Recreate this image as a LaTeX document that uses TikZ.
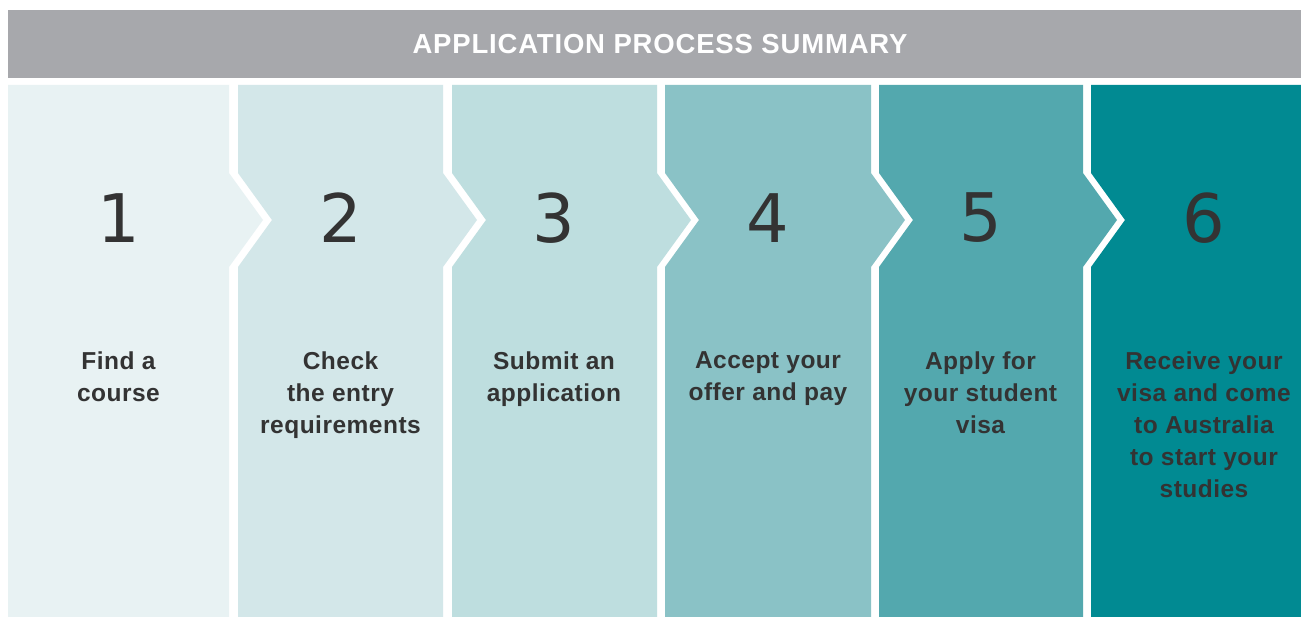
\documentclass[tikz,border=0pt]{standalone}
\usepackage{fontspec}
\setmainfont{Liberation Sans}
\newfontfamily\lblfont[LetterSpace=2]{Liberation Sans}
\newfontfamily\ttlfont[LetterSpace=3]{Liberation Sans}
\newfontfamily\numfont{DejaVu Sans}
\definecolor{bargray}{HTML}{A7A8AC}
\definecolor{pa}{HTML}{E8F2F3}
\definecolor{pb}{HTML}{D3E7E9}
\definecolor{pc}{HTML}{BEDEDF}
\definecolor{pd}{HTML}{8AC2C6}
\definecolor{pe}{HTML}{53A8AE}
\definecolor{pf}{HTML}{018A92}
\definecolor{textdark}{HTML}{333333}
\begin{document}
\begin{tikzpicture}[x=1pt,y=-1pt,
  titletext/.style={inner sep=0, text=white, font=\ttlfont\bfseries\fontsize{27.5}{32}\selectfont},
  num/.style={inner sep=0, text=textdark, font=\numfont\fontsize{67}{70}\selectfont},
  lbl/.style={anchor=north, inner sep=0, align=center, text=textdark, font=\lblfont\bfseries\fontsize{24.5}{32}\selectfont}]
\useasboundingbox (0,0) rectangle (1301,617);
\fill[white] (0,0) rectangle (1301,617);
\fill[bargray] (8,10) rectangle (1301,78.5);
\node[titletext] (title) at (660,44) {APPLICATION PROCESS SUMMARY};
% panels
\fill[pa] (8,85) -- (229,85) -- (229,173) -- (263,220) -- (229,267) -- (229,617) -- (8,617) -- cycle;
\fill[pb] (238,85) -- (443,85) -- (443,173) -- (477,220) -- (443,267) -- (443,617) -- (238,617) -- (238,267) -- (272,220) -- (238,173) -- cycle;
\fill[pc] (452,85) -- (657,85) -- (657,173) -- (691,220) -- (657,267) -- (657,617) -- (452,617) -- (452,267) -- (486,220) -- (452,173) -- cycle;
\fill[pd] (665,85) -- (871,85) -- (871,173) -- (905,220) -- (871,267) -- (871,617) -- (665,617) -- (665,267) -- (699,220) -- (665,173) -- cycle;
\fill[pe] (879,85) -- (1083,85) -- (1083,173) -- (1117,220) -- (1083,267) -- (1083,617) -- (879,617) -- (879,267) -- (913,220) -- (879,173) -- cycle;
\fill[pf] (1091,85) -- (1301,85) -- (1301,617) -- (1091,617) -- (1091,267) -- (1125,220) -- (1091,173) -- cycle;
% numbers
\node[num] (n1) at (118.5,218) {1};
\node[num] (n2) at (340.5,218) {2};
\node[num] (n3) at (554,218) {3};
\node[num] (n4) at (768,218) {4};
\node[num] (n5) at (980.5,218) {5};
\node[num] (n6) at (1204,218) {6};
% labels
\node[lbl] (t1) at (118.5,351.5) {Find a\\course};
\node[lbl] (t2) at (340.5,351.5) {Check\\the entry\\requirements};
\node[lbl] (t3) at (554,351.5) {Submit an\\application};
\node[lbl] (t4) at (768,351.5) {Accept your\\offer and pay};
\node[lbl] (t5) at (980.5,351.5) {Apply for\\your student\\visa};
\node[lbl] (t6) at (1204,351.5) {Receive your\\visa and come\\to Australia\\to start your\\studies};
\end{tikzpicture}
\end{document}
